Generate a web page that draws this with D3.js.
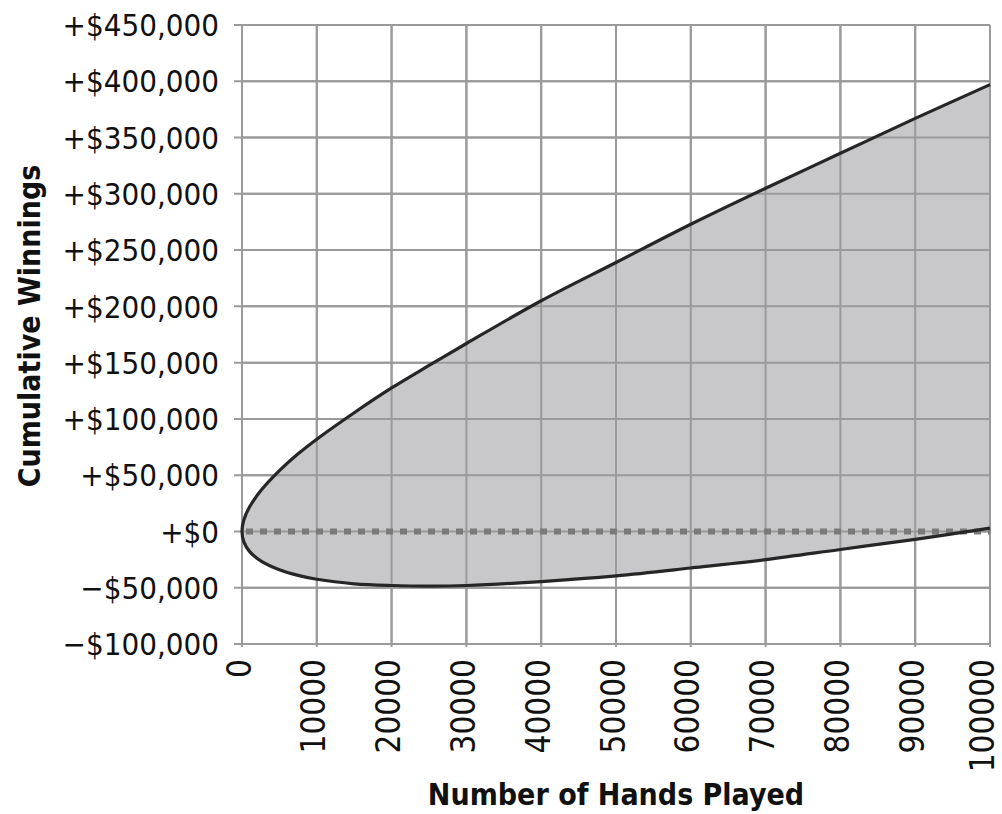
<!DOCTYPE html>
<html>
<head>
<meta charset="utf-8">
<script src="https://cdn.jsdelivr.net/npm/d3@7"></script>
<style>
  html, body { margin: 0; padding: 0; background: #fff; }
  svg { display: block; }
  .tick-label { font-family: "DejaVu Sans Condensed", "DejaVu Sans", sans-serif; fill: #111; }
  .title { font-family: "DejaVu Sans Condensed", "DejaVu Sans", sans-serif; font-weight: bold; fill: #111; }
</style>
</head>
<body>
<svg id="chart" width="1002" height="814"></svg>
<script>
// Hands played and the upper / lower edges of the winnings band
const hands = [0, 250, 1000, 2500, 5000, 7500, 10000, 15000, 20000, 25000, 30000, 40000, 50000, 60000, 70000, 80000, 90000, 100000];
const upperWinnings = [0, 10300, 21700, 36100, 54000, 69000, 82000, 105500, 127500, 147500, 167000, 205000, 239000, 273000, 305000, 336000, 367000, 397000];
const lowerWinnings = [0, -9300, -17700, -26100, -34000, -39000, -42500, -46500, -48000, -48500, -48000, -44500, -39500, -32500, -25000, -16000, -7000, 3000];

const xTicks = [0, 10000, 20000, 30000, 40000, 50000, 60000, 70000, 80000, 90000, 100000];
const yTicks = [-100000, -50000, 0, 50000, 100000, 150000, 200000, 250000, 300000, 350000, 400000, 450000];
const yTickLabels = ["\u2212$100,000", "\u2212$50,000", "+$0", "+$50,000", "+$100,000", "+$150,000", "+$200,000", "+$250,000", "+$300,000", "+$350,000", "+$400,000", "+$450,000"];

const width = 1002;
const svg = d3.select("#chart");
const plotLeft = 242, plotRight = 990, plotTop = 25, plotBottom = 644;

const x = d3.scaleLinear().domain([0, 100000]).range([plotLeft, plotRight]);
const y = d3.scaleLinear().domain([-100000, 450000]).range([plotBottom, plotTop]);

// Grid with small outward ticks
const grid = svg.append("g").attr("stroke", "#9a9a9a").attr("stroke-width", 2);
grid.selectAll("line.h").data(yTicks).join("line")
  .attr("x1", plotLeft - 8).attr("x2", plotRight)
  .attr("y1", d => y(d)).attr("y2", d => y(d));
grid.selectAll("line.v").data(xTicks).join("line")
  .attr("x1", d => x(d)).attr("x2", d => x(d))
  .attr("y1", plotTop).attr("y2", plotBottom + 3);

// Band outline: lower edge traced backwards, then the upper edge
const outline = [];
for (let i = hands.length - 1; i >= 0; i--) outline.push([hands[i], lowerWinnings[i]]);
for (let i = 1; i < hands.length; i++) outline.push([hands[i], upperWinnings[i]]);

const line = d3.line().x(d => x(d[0])).y(d => y(d[1])).curve(d3.curveCatmullRom.alpha(0.5));

svg.append("path")
  .attr("d", line(outline) + "Z")
  .attr("fill", "#c8c8ca")
  .attr("stroke", "none");

// Grid again on top of the fill
const grid2 = svg.append("g").attr("stroke", "#9a9a9a").attr("stroke-width", 2);
grid2.selectAll("line.h").data(yTicks).join("line")
  .attr("x1", plotLeft).attr("x2", plotRight)
  .attr("y1", d => y(d)).attr("y2", d => y(d));
grid2.selectAll("line.v").data(xTicks).join("line")
  .attr("x1", d => x(d)).attr("x2", d => x(d))
  .attr("y1", plotTop).attr("y2", plotBottom);

// Break-even line
svg.append("line")
  .attr("x1", x(0) + 4).attr("x2", plotRight)
  .attr("y1", y(0)).attr("y2", y(0))
  .attr("stroke", "#7a7a7a").attr("stroke-width", 6)
  .attr("stroke-dasharray", "7,7");

// Band edge
svg.append("path")
  .attr("d", line(outline))
  .attr("fill", "none")
  .attr("stroke", "#262626")
  .attr("stroke-width", 3.2);

// Y tick labels
svg.append("g").selectAll("text").data(yTicks).join("text")
  .attr("class", "tick-label")
  .attr("x", 219).attr("y", d => y(d))
  .attr("dy", "0.36em")
  .attr("text-anchor", "end")
  .style("font-size", "31px")
  .text((d, i) => yTickLabels[i]);

// X tick labels (rotated), kept inside the right edge
svg.append("g").selectAll("text").data(xTicks).join("text")
  .attr("class", "tick-label")
  .attr("transform", d => `translate(${Math.min(x(d), width - 17)},659) rotate(-90)`)
  .attr("dy", "0.26em")
  .attr("text-anchor", "end")
  .style("font-size", "33px")
  .text(d => String(d));

// Axis titles
svg.append("text")
  .attr("class", "title")
  .attr("transform", `translate(40,326) rotate(-90)`)
  .attr("text-anchor", "middle")
  .style("font-size", "30px")
  .text("Cumulative Winnings");

svg.append("text")
  .attr("class", "title")
  .attr("x", (plotLeft + plotRight) / 2).attr("y", 805)
  .attr("text-anchor", "middle")
  .style("font-size", "30px")
  .text("Number of Hands Played");
</script>
</body>
</html>
